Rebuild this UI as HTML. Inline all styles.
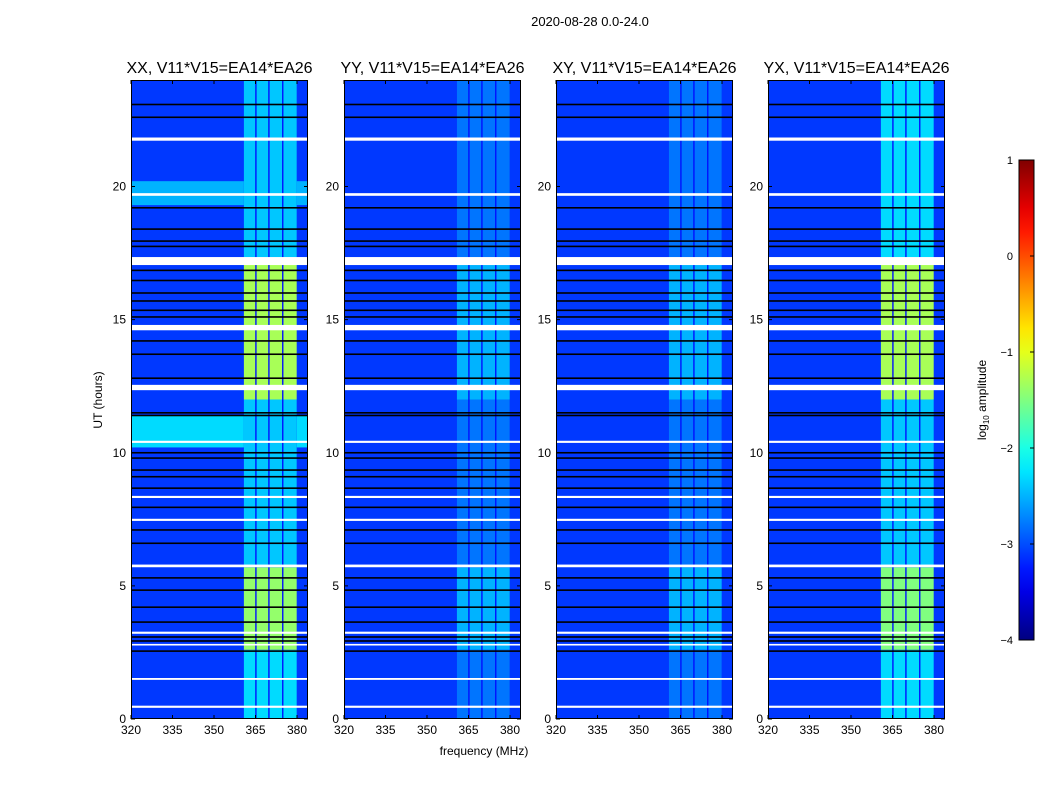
<!DOCTYPE html>
<html><head><meta charset="utf-8"><style>
body{margin:0;background:#fff;}
svg{display:block;font-family:"Liberation Sans",sans-serif;}
</style></head><body>
<svg id="fig" width="1050" height="800">
<text x="590" y="26" font-size="13" text-anchor="middle">2020-08-28 0.0-24.0</text>
<text x="484" y="755" font-size="12" text-anchor="middle">frequency (MHz)</text>
<text x="102" y="400" font-size="12" text-anchor="middle" transform="rotate(-90 102 400)">UT (hours)</text>
<text x="986" y="400" font-size="12" text-anchor="middle" transform="rotate(-90 986 400)">log<tspan font-size="8" dy="3">10</tspan><tspan dy="-3"> amplitude</tspan></text>
</svg>
<script>
const panelTitles=["XX, V11*V15=EA14*EA26","YY, V11*V15=EA14*EA26","XY, V11*V15=EA14*EA26","YX, V11*V15=EA14*EA26"];
const panelX=[131,344,556,768];
const xTicks=[320,335,350,365,380];
const yTicks=[0,5,10,15,20];
const cbTicks=[1,0,-1,-2,-3,-4];
const segStart=[0,2.6,5.7,12.0,17.3];
const segEnd=[2.6,5.7,12.0,17.3,24];
const baseLevel=-3.1;
const gapLevel=-3.3;
const colLevelXX=[-2.3,-1.4,-2.4,-1.3,-2.4];
const colLevelYY=[-2.8,-2.5,-2.8,-2.5,-2.8];
const colLevelXY=[-2.8,-2.5,-2.8,-2.5,-2.8];
const colLevelYX=[-2.3,-1.5,-2.4,-1.3,-2.3];
const colLevels=[colLevelXX,colLevelYY,colLevelXY,colLevelYX];
const bandLo=[360.8,365.4,370.1,375.1];
const bandHi=[364.9,369.6,374.6,379.9];
const xxBandStart=[19.3,10.2];
const xxBandEnd=[20.2,11.4];
const xxBandLevel=[-2.5,-2.3];
const whiteStart=[21.72,19.65,17.05,14.6,12.35,10.37,8.3,7.44,5.7,3.2,1.47,0.42,2.76];
const whiteEnd=[21.84,19.75,17.35,14.8,12.55,10.45,8.38,7.52,5.8,3.28,1.54,0.5,2.82];
const blackLines=[23.08,22.6,19.2,18.4,17.95,17.75,16.85,16.47,16.0,15.7,15.35,15.1,14.2,13.7,12.8,11.5,11.4,10.0,9.8,9.35,9.1,8.67,7.95,7.1,6.6,5.3,4.84,4.2,3.64,3.08,2.93,2.55];

const NS="http://www.w3.org/2000/svg";
const svg=document.getElementById('fig');
const W=177,Y0=719,Y1=80;
const xs=f=>(f-320)*(166/60);
const ys=h=>Y0-(h/24)*(Y0-Y1);
function jet(v){
  const t=Math.max(0,Math.min(1,(v+4)/5));
  const c=x=>Math.round(255*Math.max(0,Math.min(1,x)));
  const r=c(Math.min(4*t-1.5,-4*t+4.5)),g=c(Math.min(4*t-0.5,-4*t+3.5)),b=c(Math.min(4*t+0.5,-4*t+2.5));
  return `rgb(${r},${g},${b})`;
}
function el(tag,attrs,parent){const e=document.createElementNS(NS,tag);for(const k in attrs)e.setAttribute(k,attrs[k]);(parent||svg).appendChild(e);return e;}
function rect(g,x,y,w,h,fill){return el('rect',{x:x,y:y,width:w,height:h,fill:fill},g);}

panelX.forEach((px,p)=>{
  const g=el('g',{transform:`translate(${px},0)`});
  
  
  const bg=rect(g,0,Y1,W,Y0-Y1,jet(baseLevel));
  
  
  if(p===0){
    xxBandStart.forEach((s,i)=>{
      const r=rect(g,0,ys(xxBandEnd[i]),W,ys(s)-ys(xxBandEnd[i]),jet(xxBandLevel[i]));
      
      
    });
  }
  segStart.forEach((s,i)=>{
    const gp=rect(g,xs(bandLo[0]),ys(segEnd[i]),xs(bandHi[bandHi.length-1])-xs(bandLo[0]),ys(s)-ys(segEnd[i]),jet(gapLevel));
    
    
    bandLo.forEach((lo,j)=>{
      const r=rect(g,xs(lo),ys(segEnd[i]),xs(bandHi[j])-xs(lo),ys(s)-ys(segEnd[i]),jet(colLevels[p][i]));
      
      
    });
  });
  blackLines.forEach(h=>{
    const r=rect(g,0,ys(h)-0.8,W,1.6,'#000');
    
    
  });
  whiteStart.forEach((s,i)=>{
    const r=rect(g,0,ys(whiteEnd[i]),W,Math.max(1.5,ys(s)-ys(whiteEnd[i])),'#fff');
    
    
  });
  const fr=el('rect',{x:0.5,y:Y1+0.5,width:W-1,height:Y0-Y1-1,fill:'none',stroke:'#000'},g);
  
  
  const t=el('text',{x:W/2,y:73,'font-size':16,'text-anchor':'middle'},g);
  t.textContent=panelTitles[p];
  
  
  xTicks.forEach(v=>{
    const x=xs(v);
    el('line',{x1:x,x2:x,y1:Y0,y2:Y0-4,stroke:'#000'},g);
    el('line',{x1:x,x2:x,y1:Y1,y2:Y1+4,stroke:'#000'},g);
    const tt=el('text',{x:x,y:Y0+15,'font-size':12,'text-anchor':'middle'},g);
    tt.textContent=v;
    
    
  });
  yTicks.forEach(v=>{
    const y=ys(v);
    el('line',{x1:0,x2:4,y1:y,y2:y,stroke:'#000'},g);
    el('line',{x1:W,x2:W-4,y1:y,y2:y,stroke:'#000'},g);
    const tt=el('text',{x:-5,y:y+4,'font-size':12,'text-anchor':'end'},g);
    tt.textContent=v;
    
    
  });
});

const defs=el('defs',{});
const grad=el('linearGradient',{id:'jetg',x1:0,y1:1,x2:0,y2:0},defs);
for(let i=0;i<=20;i++){el('stop',{offset:i/20,'stop-color':jet(-4+5*i/20)},grad);}
const cbTop=160,cbBot=640;
const cb=el('rect',{x:1019,y:cbTop,width:15,height:cbBot-cbTop,fill:'url(#jetg)',stroke:'#000'});


const cbY=v=>cbBot-(v+4)/5*(cbBot-cbTop);
cbTicks.forEach(v=>{
  const y=cbY(v);
  el('line',{x1:1030,x2:1034,y1:y,y2:y,stroke:'#000'});
  const tt=el('text',{x:1013,y:y+4,'font-size':11,'text-anchor':'end'});
  tt.textContent=(v<0?'\u2212'+(-v):v);
  
  
});
</script>
</body></html>
